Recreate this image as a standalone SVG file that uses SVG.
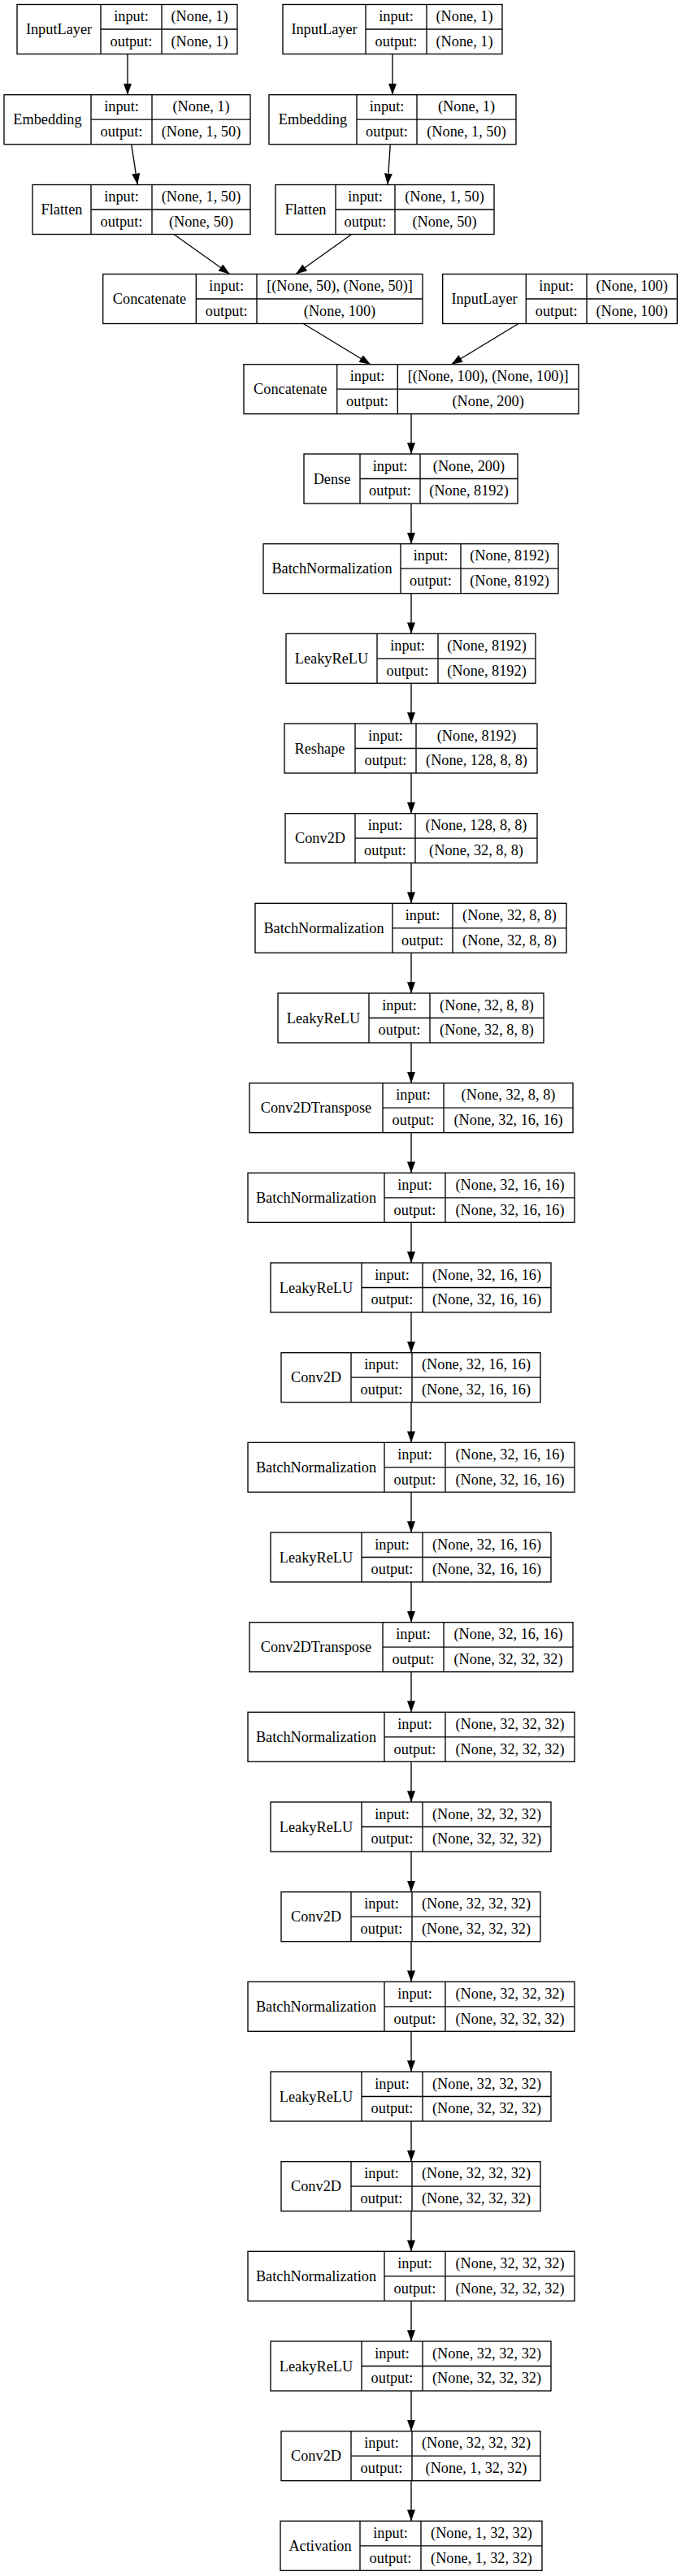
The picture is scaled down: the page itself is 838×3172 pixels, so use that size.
<svg xmlns="http://www.w3.org/2000/svg" width="838" height="3172" viewBox="0 0 838 3172">
<style>
.b{fill:#fff;stroke:#000;stroke-width:1.33}
.l{fill:none;stroke:#000;stroke-width:1.33}
.t{font-family:"Liberation Serif","Times New Roman",serif;font-size:18.3px;text-anchor:middle;fill:#000}
.e{fill:none;stroke:#000;stroke-width:1.33;marker-end:url(#ah)}
</style>
<defs>
<marker id="ah" markerUnits="userSpaceOnUse" markerWidth="14" markerHeight="10" viewBox="0 0 13 9.4" refX="13" refY="4.7" orient="auto">
<path d="M0,0 L13,4.7 L0,9.4 Z" fill="#000"/>
</marker>
</defs>
<rect x="0" y="0" width="838" height="3172" fill="#fff"/>

<g id="edges">
<line class="e" x1="157" y1="66.5" x2="157" y2="116.7"/>
<line class="e" x1="161.7" y1="177.7" x2="169.3" y2="227.5"/>
<line class="e" x1="483" y1="66.5" x2="483" y2="116.7"/>
<line class="e" x1="480.3" y1="177.7" x2="477" y2="227.5"/>
<line class="e" x1="214" y1="288.5" x2="282.7" y2="337.5"/>
<line class="e" x1="432.7" y1="288.5" x2="364" y2="337.5"/>
<line class="e" x1="373.3" y1="398.5" x2="456" y2="448.7"/>
<line class="e" x1="638" y1="398.5" x2="555.3" y2="448.7"/>
<line class="e" x1="506" y1="509.7" x2="506" y2="559"/>
<line class="e" x1="506" y1="620" x2="506" y2="669.7"/>
<line class="e" x1="506" y1="730.7" x2="506" y2="780.3"/>
<line class="e" x1="506" y1="841.3" x2="506" y2="891"/>
<line class="e" x1="506" y1="952" x2="506" y2="1001.7"/>
<line class="e" x1="506" y1="1062.7" x2="506" y2="1112.3"/>
<line class="e" x1="506" y1="1173.3" x2="506" y2="1223"/>
<line class="e" x1="506" y1="1284" x2="506" y2="1333.7"/>
<line class="e" x1="506" y1="1394.7" x2="506" y2="1444.3"/>
<line class="e" x1="506" y1="1505.3" x2="506" y2="1555"/>
<line class="e" x1="506" y1="1616" x2="506" y2="1665.7"/>
<line class="e" x1="506" y1="1726.7" x2="506" y2="1776.3"/>
<line class="e" x1="506" y1="1837.3" x2="506" y2="1887"/>
<line class="e" x1="506" y1="1948" x2="506" y2="1997.7"/>
<line class="e" x1="506" y1="2058.7" x2="506" y2="2108.3"/>
<line class="e" x1="506" y1="2169.3" x2="506" y2="2219"/>
<line class="e" x1="506" y1="2280" x2="506" y2="2329.7"/>
<line class="e" x1="506" y1="2390.7" x2="506" y2="2440.3"/>
<line class="e" x1="506" y1="2501.3" x2="506" y2="2551"/>
<line class="e" x1="506" y1="2612" x2="506" y2="2661.7"/>
<line class="e" x1="506" y1="2722.7" x2="506" y2="2772.3"/>
<line class="e" x1="506" y1="2833.3" x2="506" y2="2883"/>
<line class="e" x1="506" y1="2944" x2="506" y2="2993.7"/>
<line class="e" x1="506" y1="3054.7" x2="506" y2="3104.3"/>
</g>

<g id="input_1" transform="translate(0,5.5)">
<rect class="b" x="21" y="0" width="271" height="61"/>
<path class="l" d="M124,0V61M199,0V61M124,30.5H292"/>
<text class="t" x="72.5" y="36.5">InputLayer</text>
<text class="t" x="161.5" y="20.8">input:</text><text class="t" x="245.5" y="20.8">(None, 1)</text>
<text class="t" x="161.5" y="51.3">output:</text><text class="t" x="245.5" y="51.3">(None, 1)</text>
</g>
<g id="input_2" transform="translate(0,5.5)">
<rect class="b" x="348" y="0" width="270" height="61"/>
<path class="l" d="M450,0V61M525,0V61M450,30.5H618"/>
<text class="t" x="399" y="36.5">InputLayer</text>
<text class="t" x="487.5" y="20.8">input:</text><text class="t" x="571.5" y="20.8">(None, 1)</text>
<text class="t" x="487.5" y="51.3">output:</text><text class="t" x="571.5" y="51.3">(None, 1)</text>
</g>
<g id="embedding_1" transform="translate(0,116.7)">
<rect class="b" x="5" y="0" width="303" height="61"/>
<path class="l" d="M112,0V61M187,0V61M112,30.5H308"/>
<text class="t" x="58.5" y="36.5">Embedding</text>
<text class="t" x="149.5" y="20.8">input:</text><text class="t" x="247.5" y="20.8">(None, 1)</text>
<text class="t" x="149.5" y="51.3">output:</text><text class="t" x="247.5" y="51.3">(None, 1, 50)</text>
</g>
<g id="embedding_2" transform="translate(0,116.7)">
<rect class="b" x="331" y="0" width="304" height="61"/>
<path class="l" d="M439,0V61M513,0V61M439,30.5H635"/>
<text class="t" x="385" y="36.5">Embedding</text>
<text class="t" x="476" y="20.8">input:</text><text class="t" x="574" y="20.8">(None, 1)</text>
<text class="t" x="476" y="51.3">output:</text><text class="t" x="574" y="51.3">(None, 1, 50)</text>
</g>
<g id="flatten_1" transform="translate(0,227.5)">
<rect class="b" x="40" y="0" width="268" height="61"/>
<path class="l" d="M112,0V61M187,0V61M112,30.5H308"/>
<text class="t" x="76" y="36.5">Flatten</text>
<text class="t" x="149.5" y="20.8">input:</text><text class="t" x="247.5" y="20.8">(None, 1, 50)</text>
<text class="t" x="149.5" y="51.3">output:</text><text class="t" x="247.5" y="51.3">(None, 50)</text>
</g>
<g id="flatten_2" transform="translate(0,227.5)">
<rect class="b" x="339" y="0" width="269" height="61"/>
<path class="l" d="M413,0V61M486,0V61M413,30.5H608"/>
<text class="t" x="376" y="36.5">Flatten</text>
<text class="t" x="449.5" y="20.8">input:</text><text class="t" x="547" y="20.8">(None, 1, 50)</text>
<text class="t" x="449.5" y="51.3">output:</text><text class="t" x="547" y="51.3">(None, 50)</text>
</g>
<g id="concatenate_1" transform="translate(0,337.5)">
<rect class="b" x="126.7" y="0" width="393.3" height="61"/>
<path class="l" d="M241.3,0V61M316,0V61M241.3,30.5H520"/>
<text class="t" x="184" y="36.5">Concatenate</text>
<text class="t" x="278.7" y="20.8">input:</text><text class="t" x="418" y="20.8">[(None, 50), (None, 50)]</text>
<text class="t" x="278.7" y="51.3">output:</text><text class="t" x="418" y="51.3">(None, 100)</text>
</g>
<g id="input_3" transform="translate(0,337.5)">
<rect class="b" x="544.7" y="0" width="288.6" height="61"/>
<path class="l" d="M647.3,0V61M722,0V61M647.3,30.5H833.3"/>
<text class="t" x="596" y="36.5">InputLayer</text>
<text class="t" x="684.7" y="20.8">input:</text><text class="t" x="777.7" y="20.8">(None, 100)</text>
<text class="t" x="684.7" y="51.3">output:</text><text class="t" x="777.7" y="51.3">(None, 100)</text>
</g>
<g id="concatenate_2" transform="translate(0,448.7)">
<rect class="b" x="300" y="0" width="412" height="61"/>
<path class="l" d="M414.7,0V61M489.3,0V61M414.7,30.5H712"/>
<text class="t" x="357.3" y="36.5">Concatenate</text>
<text class="t" x="452" y="20.8">input:</text><text class="t" x="600.7" y="20.8">[(None, 100), (None, 100)]</text>
<text class="t" x="452" y="51.3">output:</text><text class="t" x="600.7" y="51.3">(None, 200)</text>
</g>

<g id="dense" transform="translate(0,559)">
<rect class="b" x="374" y="0" width="263" height="61"/>
<path class="l" d="M443,0V61M517,0V61M443,30.5H637"/>
<text class="t" x="408.5" y="36.5">Dense</text>
<text class="t" x="480" y="20.8">input:</text><text class="t" x="577" y="20.8">(None, 200)</text>
<text class="t" x="480" y="51.3">output:</text><text class="t" x="577" y="51.3">(None, 8192)</text>
</g>
<g id="batchnorm_1" transform="translate(0,669.7)">
<rect class="b" x="324" y="0" width="363" height="61"/>
<path class="l" d="M493,0V61M567,0V61M493,30.5H687"/>
<text class="t" x="408.5" y="36.5">BatchNormalization</text>
<text class="t" x="530" y="20.8">input:</text><text class="t" x="627" y="20.8">(None, 8192)</text>
<text class="t" x="530" y="51.3">output:</text><text class="t" x="627" y="51.3">(None, 8192)</text>
</g>
<g id="leakyrelu_1" transform="translate(0,780.3)">
<rect class="b" x="352" y="0" width="307" height="61"/>
<path class="l" d="M464,0V61M539,0V61M464,30.5H659"/>
<text class="t" x="408" y="36.5">LeakyReLU</text>
<text class="t" x="501.5" y="20.8">input:</text><text class="t" x="599" y="20.8">(None, 8192)</text>
<text class="t" x="501.5" y="51.3">output:</text><text class="t" x="599" y="51.3">(None, 8192)</text>
</g>
<g id="reshape" transform="translate(0,891)">
<rect class="b" x="350" y="0" width="311" height="61"/>
<path class="l" d="M437,0V61M512,0V61M437,30.5H661"/>
<text class="t" x="393.5" y="36.5">Reshape</text>
<text class="t" x="474.5" y="20.8">input:</text><text class="t" x="586.5" y="20.8">(None, 8192)</text>
<text class="t" x="474.5" y="51.3">output:</text><text class="t" x="586.5" y="51.3">(None, 128, 8, 8)</text>
</g>
<g id="conv2d_1" transform="translate(0,1001.7)">
<rect class="b" x="351" y="0" width="310" height="61"/>
<path class="l" d="M437,0V61M511,0V61M437,30.5H661"/>
<text class="t" x="394" y="36.5">Conv2D</text>
<text class="t" x="474" y="20.8">input:</text><text class="t" x="586" y="20.8">(None, 128, 8, 8)</text>
<text class="t" x="474" y="51.3">output:</text><text class="t" x="586" y="51.3">(None, 32, 8, 8)</text>
</g>
<g id="batchnorm_2" transform="translate(0,1112.3)">
<rect class="b" x="314" y="0" width="383" height="61"/>
<path class="l" d="M483,0V61M557,0V61M483,30.5H697"/>
<text class="t" x="398.5" y="36.5">BatchNormalization</text>
<text class="t" x="520" y="20.8">input:</text><text class="t" x="627" y="20.8">(None, 32, 8, 8)</text>
<text class="t" x="520" y="51.3">output:</text><text class="t" x="627" y="51.3">(None, 32, 8, 8)</text>
</g>
<g id="leakyrelu_2" transform="translate(0,1223)">
<rect class="b" x="342" y="0" width="327" height="61"/>
<path class="l" d="M454,0V61M529,0V61M454,30.5H669"/>
<text class="t" x="398" y="36.5">LeakyReLU</text>
<text class="t" x="491.5" y="20.8">input:</text><text class="t" x="599" y="20.8">(None, 32, 8, 8)</text>
<text class="t" x="491.5" y="51.3">output:</text><text class="t" x="599" y="51.3">(None, 32, 8, 8)</text>
</g>
<g id="conv2dtranspose_1" transform="translate(0,1333.7)">
<rect class="b" x="307" y="0" width="398" height="61"/>
<path class="l" d="M471,0V61M546,0V61M471,30.5H705"/>
<text class="t" x="389" y="36.5">Conv2DTranspose</text>
<text class="t" x="508.5" y="20.8">input:</text><text class="t" x="625.5" y="20.8">(None, 32, 8, 8)</text>
<text class="t" x="508.5" y="51.3">output:</text><text class="t" x="625.5" y="51.3">(None, 32, 16, 16)</text>
</g>
<g id="batchnorm_3" transform="translate(0,1444.3)">
<rect class="b" x="305" y="0" width="402" height="61"/>
<path class="l" d="M473,0V61M548,0V61M473,30.5H707"/>
<text class="t" x="389" y="36.5">BatchNormalization</text>
<text class="t" x="510.5" y="20.8">input:</text><text class="t" x="627.5" y="20.8">(None, 32, 16, 16)</text>
<text class="t" x="510.5" y="51.3">output:</text><text class="t" x="627.5" y="51.3">(None, 32, 16, 16)</text>
</g>
<g id="leakyrelu_3" transform="translate(0,1555)">
<rect class="b" x="333" y="0" width="345" height="61"/>
<path class="l" d="M445,0V61M520,0V61M445,30.5H678"/>
<text class="t" x="389" y="36.5">LeakyReLU</text>
<text class="t" x="482.5" y="20.8">input:</text><text class="t" x="599" y="20.8">(None, 32, 16, 16)</text>
<text class="t" x="482.5" y="51.3">output:</text><text class="t" x="599" y="51.3">(None, 32, 16, 16)</text>
</g>
<g id="conv2d_2" transform="translate(0,1665.7)">
<rect class="b" x="346" y="0" width="319" height="61"/>
<path class="l" d="M432,0V61M507,0V61M432,30.5H665"/>
<text class="t" x="389" y="36.5">Conv2D</text>
<text class="t" x="469.5" y="20.8">input:</text><text class="t" x="586" y="20.8">(None, 32, 16, 16)</text>
<text class="t" x="469.5" y="51.3">output:</text><text class="t" x="586" y="51.3">(None, 32, 16, 16)</text>
</g>
<g id="batchnorm_4" transform="translate(0,1776.3)">
<rect class="b" x="305" y="0" width="402" height="61"/>
<path class="l" d="M473,0V61M548,0V61M473,30.5H707"/>
<text class="t" x="389" y="36.5">BatchNormalization</text>
<text class="t" x="510.5" y="20.8">input:</text><text class="t" x="627.5" y="20.8">(None, 32, 16, 16)</text>
<text class="t" x="510.5" y="51.3">output:</text><text class="t" x="627.5" y="51.3">(None, 32, 16, 16)</text>
</g>
<g id="leakyrelu_4" transform="translate(0,1887)">
<rect class="b" x="333" y="0" width="345" height="61"/>
<path class="l" d="M445,0V61M520,0V61M445,30.5H678"/>
<text class="t" x="389" y="36.5">LeakyReLU</text>
<text class="t" x="482.5" y="20.8">input:</text><text class="t" x="599" y="20.8">(None, 32, 16, 16)</text>
<text class="t" x="482.5" y="51.3">output:</text><text class="t" x="599" y="51.3">(None, 32, 16, 16)</text>
</g>
<g id="conv2dtranspose_2" transform="translate(0,1997.7)">
<rect class="b" x="307" y="0" width="398" height="61"/>
<path class="l" d="M471,0V61M546,0V61M471,30.5H705"/>
<text class="t" x="389" y="36.5">Conv2DTranspose</text>
<text class="t" x="508.5" y="20.8">input:</text><text class="t" x="625.5" y="20.8">(None, 32, 16, 16)</text>
<text class="t" x="508.5" y="51.3">output:</text><text class="t" x="625.5" y="51.3">(None, 32, 32, 32)</text>
</g>
<g id="batchnorm_5" transform="translate(0,2108.3)">
<rect class="b" x="305" y="0" width="402" height="61"/>
<path class="l" d="M473,0V61M548,0V61M473,30.5H707"/>
<text class="t" x="389" y="36.5">BatchNormalization</text>
<text class="t" x="510.5" y="20.8">input:</text><text class="t" x="627.5" y="20.8">(None, 32, 32, 32)</text>
<text class="t" x="510.5" y="51.3">output:</text><text class="t" x="627.5" y="51.3">(None, 32, 32, 32)</text>
</g>
<g id="leakyrelu_5" transform="translate(0,2219)">
<rect class="b" x="333" y="0" width="345" height="61"/>
<path class="l" d="M445,0V61M520,0V61M445,30.5H678"/>
<text class="t" x="389" y="36.5">LeakyReLU</text>
<text class="t" x="482.5" y="20.8">input:</text><text class="t" x="599" y="20.8">(None, 32, 32, 32)</text>
<text class="t" x="482.5" y="51.3">output:</text><text class="t" x="599" y="51.3">(None, 32, 32, 32)</text>
</g>
<g id="conv2d_3" transform="translate(0,2329.7)">
<rect class="b" x="346" y="0" width="319" height="61"/>
<path class="l" d="M432,0V61M507,0V61M432,30.5H665"/>
<text class="t" x="389" y="36.5">Conv2D</text>
<text class="t" x="469.5" y="20.8">input:</text><text class="t" x="586" y="20.8">(None, 32, 32, 32)</text>
<text class="t" x="469.5" y="51.3">output:</text><text class="t" x="586" y="51.3">(None, 32, 32, 32)</text>
</g>
<g id="batchnorm_6" transform="translate(0,2440.3)">
<rect class="b" x="305" y="0" width="402" height="61"/>
<path class="l" d="M473,0V61M548,0V61M473,30.5H707"/>
<text class="t" x="389" y="36.5">BatchNormalization</text>
<text class="t" x="510.5" y="20.8">input:</text><text class="t" x="627.5" y="20.8">(None, 32, 32, 32)</text>
<text class="t" x="510.5" y="51.3">output:</text><text class="t" x="627.5" y="51.3">(None, 32, 32, 32)</text>
</g>
<g id="leakyrelu_6" transform="translate(0,2551)">
<rect class="b" x="333" y="0" width="345" height="61"/>
<path class="l" d="M445,0V61M520,0V61M445,30.5H678"/>
<text class="t" x="389" y="36.5">LeakyReLU</text>
<text class="t" x="482.5" y="20.8">input:</text><text class="t" x="599" y="20.8">(None, 32, 32, 32)</text>
<text class="t" x="482.5" y="51.3">output:</text><text class="t" x="599" y="51.3">(None, 32, 32, 32)</text>
</g>
<g id="conv2d_4" transform="translate(0,2661.7)">
<rect class="b" x="346" y="0" width="319" height="61"/>
<path class="l" d="M432,0V61M507,0V61M432,30.5H665"/>
<text class="t" x="389" y="36.5">Conv2D</text>
<text class="t" x="469.5" y="20.8">input:</text><text class="t" x="586" y="20.8">(None, 32, 32, 32)</text>
<text class="t" x="469.5" y="51.3">output:</text><text class="t" x="586" y="51.3">(None, 32, 32, 32)</text>
</g>
<g id="batchnorm_7" transform="translate(0,2772.3)">
<rect class="b" x="305" y="0" width="402" height="61"/>
<path class="l" d="M473,0V61M548,0V61M473,30.5H707"/>
<text class="t" x="389" y="36.5">BatchNormalization</text>
<text class="t" x="510.5" y="20.8">input:</text><text class="t" x="627.5" y="20.8">(None, 32, 32, 32)</text>
<text class="t" x="510.5" y="51.3">output:</text><text class="t" x="627.5" y="51.3">(None, 32, 32, 32)</text>
</g>
<g id="leakyrelu_7" transform="translate(0,2883)">
<rect class="b" x="333" y="0" width="345" height="61"/>
<path class="l" d="M445,0V61M520,0V61M445,30.5H678"/>
<text class="t" x="389" y="36.5">LeakyReLU</text>
<text class="t" x="482.5" y="20.8">input:</text><text class="t" x="599" y="20.8">(None, 32, 32, 32)</text>
<text class="t" x="482.5" y="51.3">output:</text><text class="t" x="599" y="51.3">(None, 32, 32, 32)</text>
</g>
<g id="conv2d_5" transform="translate(0,2993.7)">
<rect class="b" x="346" y="0" width="319" height="61"/>
<path class="l" d="M432,0V61M507,0V61M432,30.5H665"/>
<text class="t" x="389" y="36.5">Conv2D</text>
<text class="t" x="469.5" y="20.8">input:</text><text class="t" x="586" y="20.8">(None, 32, 32, 32)</text>
<text class="t" x="469.5" y="51.3">output:</text><text class="t" x="586" y="51.3">(None, 1, 32, 32)</text>
</g>
<g id="activation" transform="translate(0,3104.3)">
<rect class="b" x="345" y="0" width="322" height="61"/>
<path class="l" d="M443,0V61M518,0V61M443,30.5H667"/>
<text class="t" x="394" y="36.5">Activation</text>
<text class="t" x="480.5" y="20.8">input:</text><text class="t" x="592.5" y="20.8">(None, 1, 32, 32)</text>
<text class="t" x="480.5" y="51.3">output:</text><text class="t" x="592.5" y="51.3">(None, 1, 32, 32)</text>
</g>
</svg>
